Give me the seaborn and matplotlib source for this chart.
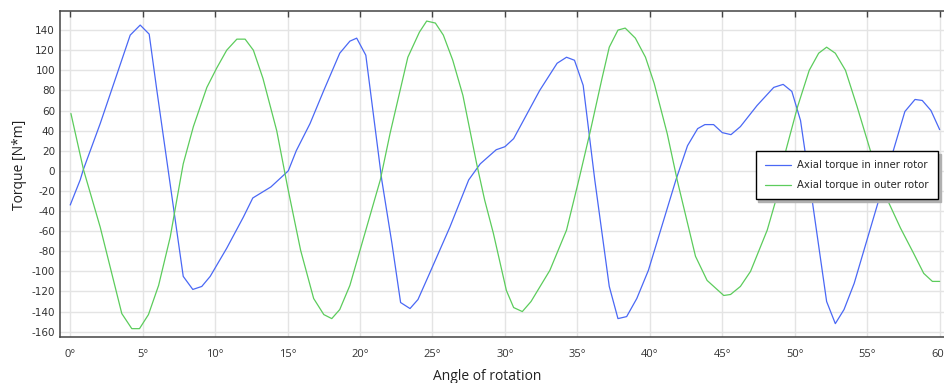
import matplotlib
matplotlib.use("Agg")
import matplotlib.pyplot as plt
import seaborn as sns
import pandas as pd

# (angle in degrees, torque in N*m)
inner_angle = [0.0, 0.69, 0.9, 2.07, 4.14, 4.83, 5.45, 5.98, 7.8, 8.46, 9.08, 9.66,
               10.8, 11.95, 12.6, 13.85, 15.05, 15.6, 16.55, 17.5, 18.6, 19.3, 19.77,
               20.4, 21.5, 22.2, 22.8, 23.45, 24.0, 24.8, 26.2, 27.5, 28.3, 29.4, 30.0,
               30.6, 32.4, 33.6, 34.25, 34.8, 35.4, 36.2, 37.2, 37.8, 38.4, 39.1, 39.9,
               41.8, 42.6, 43.3, 43.8, 44.4, 45.0, 45.6, 46.25, 47.4, 48.55, 49.2, 49.8,
               50.4, 51.2, 52.2, 52.8, 53.4, 54.1, 55.8, 56.8, 57.6, 58.3, 58.8, 59.4, 60.0]
inner_torque = [-34, -9, 1, 47, 135, 145, 136, 80, -105, -118, -115, -105,
                -77, -46, -27, -16, 0, 20, 47, 80, 117, 129, 132,
                115, -9, -72, -131, -137, -128, -102, -56, -9, 7, 21, 24,
                32, 80, 107, 113, 110, 85, -9, -115, -147, -145, -127, -99,
                -9, 25, 42, 46, 46, 38, 36, 44, 65, 83, 86, 79,
                50, -29, -130, -152, -138, -112, -29, 20, 59, 71, 70, 60, 41]

outer_angle = [0.05, 0.92, 2.07, 3.56, 4.25, 4.78, 5.4, 6.1, 6.9, 7.6, 7.8, 8.5, 9.43,
               10.1, 10.8, 11.5, 12.07, 12.64, 13.3, 14.25, 15.0, 15.9, 16.8, 17.5,
               18.05, 18.6, 19.3, 20.0, 21.4, 22.07, 23.3, 24.1, 24.6, 25.2, 25.75,
               26.4, 27.1, 28.05, 28.6, 29.2, 30.1, 30.6, 31.2, 31.8, 33.1, 34.25,
               35.1, 35.9, 36.7, 37.2, 37.8, 38.3, 39.0, 39.7, 40.3, 41.2, 41.9,
               43.15, 43.95, 45.1, 45.57, 46.25, 46.95, 48.1, 48.7, 49.4, 50.2, 51.0,
               51.65, 52.2, 52.8, 53.5, 54.3, 55.2, 56.4, 57.3, 58.2, 58.9, 59.5, 60.0]
outer_torque = [57, 1, -56, -142, -157, -157, -143, -114, -66, -9, 7, 44, 83,
                102, 120, 131, 131, 120, 92, 40, -16, -79, -127, -143,
                -147, -138, -114, -79, -9, 37, 113, 138, 149, 147, 135,
                110, 75, 7, -29, -62, -119, -136, -140, -130, -99, -59,
                -9, 40, 92, 123, 140, 142, 132, 113, 87, 37, -10,
                -85, -109, -124, -123, -115, -100, -59, -29, 21, 64, 100,
                117, 123, 117, 100, 64, 21, -29, -57, -82, -102, -110, -110]

series_names = ["Axial torque in inner rotor", "Axial torque in outer rotor"]
series_colors = ["#4a68f5", "#5ccc5c"]
x_ticks = list(range(0, 61, 5))
y_ticks = list(range(-160, 141, 20))

df = pd.concat([
    pd.DataFrame({"angle": inner_angle, "torque": inner_torque, "series": series_names[0]}),
    pd.DataFrame({"angle": outer_angle, "torque": outer_torque, "series": series_names[1]}),
])

sns.set_style("white")
fig = plt.figure(figsize=(9.44, 3.83), dpi=100)
ax = fig.add_axes([60.5 / 944, 46.3 / 383, 883.5 / 944, 325.4 / 383])

sns.lineplot(data=df, x="angle", y="torque", hue="series", palette=series_colors,
             hue_order=series_names, sort=False, estimator=None, linewidth=0.9, ax=ax)

ax.set_xlim(-0.67, 60.3)
ax.set_ylim(-165, 158.7)
ax.set_xticks(x_ticks)
ax.set_xticklabels([f"{t}°" for t in x_ticks], fontfamily="Open Sans", fontsize=8, color="#333333")
ax.set_yticks(y_ticks)
ax.set_yticklabels([str(t) for t in y_ticks], fontfamily="DejaVu Sans", fontsize=7.5, color="#333333")
ax.tick_params(axis="x", direction="in", length=4, width=1, color="#444444", top=True, pad=9)
ax.tick_params(axis="y", direction="in", length=0, pad=4)
ax.grid(True, color="#e4e4e4", linewidth=1)
ax.set_axisbelow(True)

for side in ["left", "bottom", "top"]:
    ax.spines[side].set_color("#444444")
    ax.spines[side].set_linewidth(1.1)
ax.spines["right"].set_visible(False)

ax.set_xlabel("")
ax.set_ylabel("")
fig.text(486.7 / 944, 1 - 379.5 / 383, "Angle of rotation", ha="center", va="baseline",
         fontfamily="Open Sans", fontsize=10, color="#222222")
fig.text(20 / 944, 1 - 165 / 383, "Torque [N*m]", ha="center", va="center", rotation=90,
         fontfamily="Open Sans", fontsize=10, color="#222222")

leg = ax.legend(loc="upper right", bbox_to_anchor=(0.9929, 0.5707), borderaxespad=0,
                frameon=True, fancybox=False, shadow={"color": "#b0b0b0", "alpha": 1},
                edgecolor="black", prop={"family": "DejaVu Sans", "size": 7.3},
                handlelength=2.6, labelspacing=1.0, borderpad=0.9, handletextpad=0.6)
leg.get_frame().set_linewidth(1)
leg.get_frame().set_alpha(1)

plt.savefig("out.png", dpi=100)
